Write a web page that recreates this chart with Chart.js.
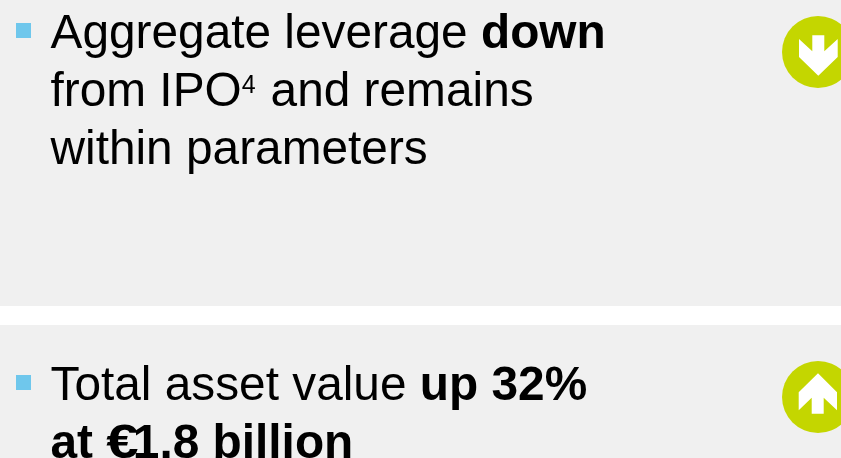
<!DOCTYPE html>
<html>
<head>
<meta charset="utf-8">
<title>Aggregate leverage and total asset value</title>
<style>
  html, body { margin: 0; padding: 0; background: #fff; overflow: hidden; }
  canvas { display: block; }
</style>
<script src="https://cdn.jsdelivr.net/npm/chart.js@4"></script>
</head>
<body>
<canvas id="slideChart" width="841" height="458"></canvas>
<script>
'use strict';

// Text runs per line: [text, style], style is 'r', 'b', 'sup' or 'euro'
const LEVERAGE_LINES = [
  [['Aggregate leverage ', 'r'], ['down', 'b']],
  [['from IPO', 'r'], ['4', 'sup'], [' and remains', 'r']],
  [['within parameters', 'r']],
];
const ASSET_LINES = [
  [['Total asset value ', 'r'], ['up 32%', 'b']],
  [['at ', 'b'], ['€', 'euro'], ['1.8 billion', 'b']],
];
const TRENDS = ['down', 'up'];

const WIDTH = 841;
const HEIGHT = 458;
const PANELS = [[0, 306], [325, 458]];
const BULLET_Y = [30.5, 382.5];
const CIRCLE_Y = [52, 397];
const BLOCK_BASELINES = [[48, 106, 164], [400, 458]];

const FONT = '"Liberation Sans", Arial, sans-serif';
const FONT_SIZE = 47.8;
const SUP_SIZE = 25;
const SUP_RISE = 13;
const SUP_GAP = 1.7;
const EURO_STRETCH = 1.22;
const TEXT_X = 50.5;

const ARROW_DOWN = [[-5.7, -16.7], [6.3, -16.7], [6.3, -0.7], [19.7, -13], [19.7, 5], [0.3, 23.7], [-19, 5], [-19, -13], [-5.7, -0.7]];
const ARROW_UP = [[0, -23.7], [19, -4.7], [19, 13.3], [5.7, 0.7], [5.7, 16.7], [-6.3, 16.7], [-6.3, 0.7], [-19.3, 13.3], [-19.3, -4.7]];

function arrowCanvas(shape) {
  const c = document.createElement('canvas');
  c.width = 60;
  c.height = 60;
  const g = c.getContext('2d');
  g.fillStyle = '#fff';
  g.beginPath();
  shape.forEach(([x, y], i) => (i ? g.lineTo(x + 30, y + 30) : g.moveTo(x + 30, y + 30)));
  g.closePath();
  g.fill();
  return c;
}

function fontFor(style) {
  if (style === 'b' || style === 'euro') return `bold ${FONT_SIZE}px ${FONT}`;
  if (style === 'sup') return `${SUP_SIZE}px ${FONT}`;
  return `${FONT_SIZE}px ${FONT}`;
}

function drawLine(ctx, runs, x, baseline) {
  runs.forEach(([text, style]) => {
    ctx.font = fontFor(style);
    if (style === 'euro') {
      // the euro sign runs wide and tucks under the next digit
      ctx.save();
      ctx.translate(x, baseline);
      ctx.scale(EURO_STRETCH, 1);
      ctx.fillText(text, 0, 0);
      ctx.restore();
    } else {
      ctx.fillText(text, x, style === 'sup' ? baseline - SUP_RISE : baseline);
    }
    x += ctx.measureText(text).width + (style === 'sup' ? SUP_GAP : 0);
  });
}

const panelPlugin = {
  id: 'panels',
  beforeDatasetsDraw(chart) {
    const { ctx, scales: { x, y } } = chart;
    ctx.save();
    ctx.fillStyle = '#f0f0f0';
    PANELS.forEach(([top, bottom]) => {
      ctx.fillRect(x.left, y.getPixelForValue(top), x.width, y.getPixelForValue(bottom) - y.getPixelForValue(top));
    });
    ctx.restore();
  },
  afterDatasetsDraw(chart) {
    const { ctx, scales: { x, y } } = chart;
    ctx.save();
    ctx.fillStyle = '#000';
    ctx.textBaseline = 'alphabetic';
    [LEVERAGE_LINES, ASSET_LINES].forEach((lines, block) => {
      lines.forEach((runs, i) => {
        drawLine(ctx, runs, x.getPixelForValue(TEXT_X), y.getPixelForValue(BLOCK_BASELINES[block][i]));
      });
    });
    ctx.restore();
  },
};

new Chart(document.getElementById('slideChart'), {
  type: 'scatter',
  data: {
    // first dataset is painted last, so the arrows sit above the circles
    datasets: [
      {
        label: 'Trend arrows',
        data: CIRCLE_Y.map(y => ({ x: 818, y })),
        pointStyle: TRENDS.map(t => arrowCanvas(t === 'down' ? ARROW_DOWN : ARROW_UP)),
        pointRadius: 30,
      },
      {
        label: 'Trend circles',
        data: CIRCLE_Y.map(y => ({ x: 818, y })),
        pointStyle: 'circle',
        pointRadius: 36,
        backgroundColor: '#c4d600',
        borderWidth: 0,
      },
      {
        label: 'Bullets',
        data: BULLET_Y.map(y => ({ x: 23.5, y })),
        pointStyle: 'rect',
        pointRadius: 10.6,
        backgroundColor: '#6fc7ec',
        borderWidth: 0,
      },
    ],
  },
  options: {
    responsive: false,
    animation: false,
    layout: { padding: 0, autoPadding: false },
    plugins: { legend: { display: false }, tooltip: { enabled: false } },
    scales: {
      x: { display: false, min: 0, max: WIDTH },
      y: { display: false, min: 0, max: HEIGHT, reverse: true },
    },
  },
  plugins: [panelPlugin],
});
</script>
</body>
</html>
